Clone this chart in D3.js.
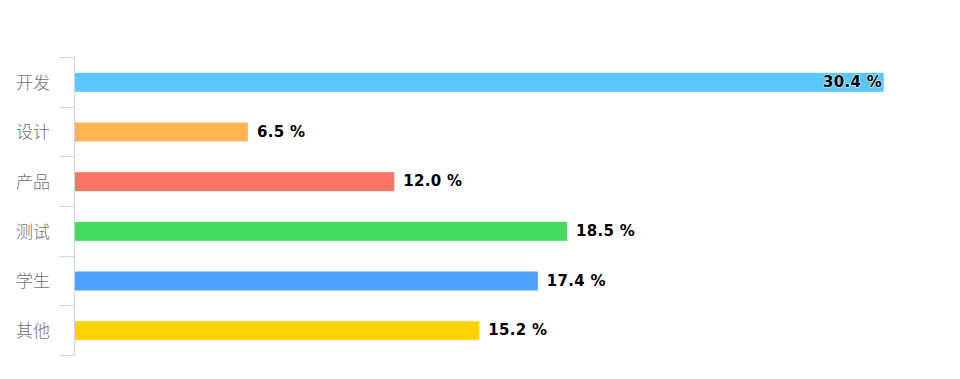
<!DOCTYPE html>
<html>
<head>
<meta charset="utf-8">
<script src="https://cdn.jsdelivr.net/npm/d3@7"></script>
<style>
  body { margin: 0; background: #fff; }
  svg { display: block; }
</style>
</head>
<body>
<div id="chart"></div>
<script>
// chart data
var categories = ["开发", "设计", "产品", "测试", "学生", "其他"];
var values = [30.4, 6.5, 12.0, 18.5, 17.4, 15.2];
var colors = ["#59C7FA", "#FFB54F", "#FF7467", "#45DB61", "#4FA0FF", "#FFD300"];

var width = 960, height = 379;
var plot = {left: 75, right: 885, top: 57, bottom: 355};

var svg = d3.select("#chart").append("svg")
    .attr("width", width)
    .attr("height", height);

var x = d3.scaleLinear()
    .domain([0, 30.45])
    .range([plot.left, plot.right]);

var y = d3.scaleBand()
    .domain(categories)
    .range([plot.top, plot.bottom]);

var barH = 19;

// category labels
svg.append("g")
    .selectAll("text")
    .data(categories)
    .join("text")
    .attr("x", 50)
    .attr("y", d => y(d) + y.bandwidth() / 2 + 1)
    .attr("dy", "0.35em")
    .attr("text-anchor", "end")
    .style("font-family", "'Noto Sans CJK SC', sans-serif")
    .style("font-size", "17px")
    .style("font-weight", 300)
    .style("fill", "#707070")
    .text(d => d);

// axis line and ticks between categories
var edges = categories.map(d => y(d)).concat([y.range()[1]]);
var axis = svg.append("g");
axis.append("line")
    .attr("x1", plot.left - 0.5).attr("x2", plot.left - 0.5)
    .attr("y1", plot.top).attr("y2", plot.bottom)
    .style("stroke", "#ccd6eb");
axis.selectAll(".tick")
    .data(edges)
    .join("line")
    .attr("class", "tick")
    .attr("x1", plot.left - 16).attr("x2", plot.left)
    .attr("y1", d => Math.round(d) + 0.5).attr("y2", d => Math.round(d) + 0.5)
    .style("stroke", "#ccd6eb");

// bars
svg.append("g")
    .selectAll("rect")
    .data(values)
    .join("rect")
    .attr("x", x(0))
    .attr("y", (d, i) => y(categories[i]) + y.bandwidth() / 2 - barH / 2 + 0.5)
    .attr("width", d => x(d) - x(0))
    .attr("height", barH)
    .style("fill", (d, i) => colors[i]);

// value labels, kept inside the plot area
var labels = svg.append("g")
    .selectAll("text")
    .data(values)
    .join("text")
    .attr("y", (d, i) => y(categories[i]) + y.bandwidth() / 2)
    .attr("dy", "0.35em")
    .style("font-family", "'DejaVu Sans', sans-serif")
    .style("font-weight", "bold")
    .style("font-size", "15px")
    .style("letter-spacing", "0.3px")
    .style("fill", "#000")
    .style("stroke", "#fff")
    .style("stroke-opacity", 0.7)
    .style("stroke-width", "1.5px")
    .style("stroke-linejoin", "round")
    .style("paint-order", "stroke")
    .text(d => d.toFixed(1) + " %");

labels.attr("x", function(d) {
    var w = this.getComputedTextLength();
    var pos = x(d) + 9;
    if (pos + w > plot.right - 3) pos = plot.right - 3 - w;
    return pos;
});
</script>
</body>
</html>
